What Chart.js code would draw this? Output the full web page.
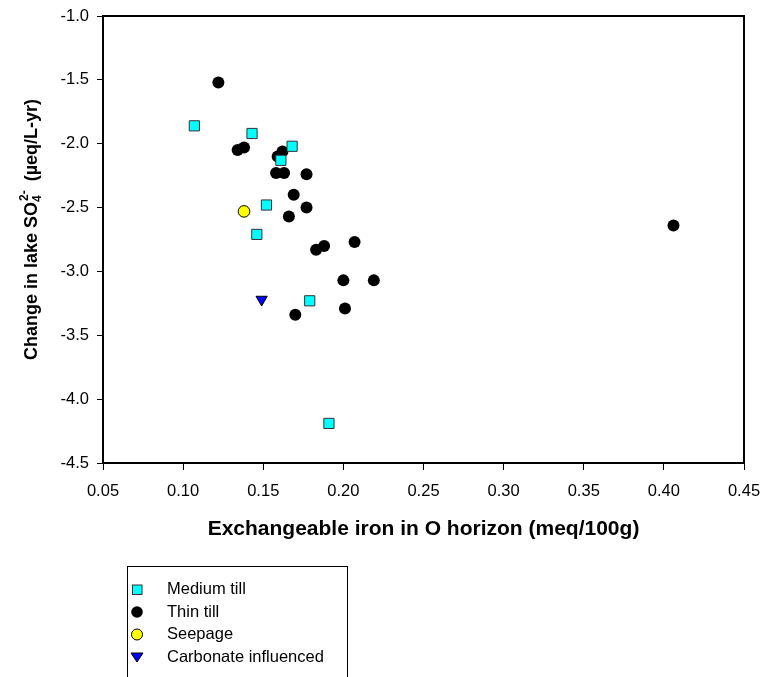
<!DOCTYPE html>
<html>
<head>
<meta charset="utf-8">
<script src="https://cdn.jsdelivr.net/npm/chart.js@4.4.0/dist/chart.umd.min.js"></script>
<style>
body { margin: 0; background: #fff; }
canvas { display: block; }
</style>
</head>
<body>
<canvas id="chart" width="761" height="677"></canvas>
<script>
// values
var mediumX = [0.107, 0.143, 0.168, 0.161, 0.152, 0.146, 0.179, 0.191];
var mediumY = [-1.86, -1.92, -2.02, -2.13, -2.48, -2.71, -3.23, -4.19];

var thinX = [0.122, 0.134, 0.138, 0.162, 0.159, 0.158, 0.163, 0.177, 0.169, 0.177, 0.166,
             0.188, 0.183, 0.207, 0.200, 0.219, 0.201, 0.170, 0.406];
var thinY = [-1.52, -2.05, -2.03, -2.06, -2.10, -2.23, -2.23, -2.24, -2.40, -2.50, -2.57,
             -2.80, -2.83, -2.77, -3.07, -3.07, -3.29, -3.34, -2.64];

var seepX = [0.138];
var seepY = [-2.53];

var carbX = [0.149];
var carbY = [-3.22];

var labels = ['Medium till', 'Thin till', 'Seepage', 'Carbonate influenced'];

var FONT = '"Liberation Sans", Arial, sans-serif';

function pts(xs, ys) {
    var out = [];
    for (var i = 0; i < xs.length; i++) {
        out.push({x: xs[i], y: ys[i]});
    }
    return out;
}

// legend symbols, same look as the points
function drawMarker(ctx, style, x, y) {
    ctx.save();
    ctx.lineWidth = 1;
    if (style == 'square') {
        ctx.fillStyle = '#00FFFF';
        ctx.strokeStyle = '#333';
        ctx.fillRect(x - 4.5, y - 4.5, 9.5, 9.5);
        ctx.strokeRect(x - 4.5, y - 4.5, 9.5, 9.5);
    } else if (style == 'black') {
        ctx.fillStyle = '#000';
        ctx.beginPath();
        ctx.arc(x, y, 5.8, 0, Math.PI * 2);
        ctx.fill();
    } else if (style == 'yellow') {
        ctx.fillStyle = '#FFFF00';
        ctx.strokeStyle = '#000';
        ctx.beginPath();
        ctx.arc(x, y, 5.5, 0, Math.PI * 2);
        ctx.fill();
        ctx.stroke();
    } else {
        ctx.fillStyle = '#0000FF';
        ctx.strokeStyle = '#000';
        ctx.beginPath();
        ctx.moveTo(x - 6, y - 4);
        ctx.lineTo(x + 6, y - 4);
        ctx.lineTo(x, y + 5);
        ctx.closePath();
        ctx.fill();
        ctx.stroke();
    }
    ctx.restore();
}

var extras = {
    id: 'extras',
    afterDraw: function(chart) {
        var ctx = chart.ctx;
        var a = chart.chartArea;
        ctx.save();
        // top and right frame
        ctx.strokeStyle = '#000';
        ctx.lineWidth = 2;
        ctx.beginPath();
        ctx.moveTo(a.left, a.top);
        ctx.lineTo(a.right, a.top);
        ctx.lineTo(a.right, a.bottom);
        ctx.stroke();

        // x title
        ctx.fillStyle = '#000';
        ctx.font = 'bold 21px ' + FONT;
        ctx.textAlign = 'center';
        ctx.textBaseline = 'middle';
        ctx.fillText('Exchangeable iron in O horizon (meq/100g)', (a.left + a.right) / 2, 529);

        // y title with sub/superscript
        ctx.translate(0, 229.5);
        ctx.rotate(-Math.PI / 2);
        var big = 'bold 18px ' + FONT;
        var small = 'bold 12px ' + FONT;
        var p1 = 'Change in lake SO', sub = '4', sup = '2-', p2 = '  (\u00b5eq/L-yr)';
        ctx.font = big;
        var w1 = ctx.measureText(p1).width, w4 = ctx.measureText(p2).width;
        ctx.font = small;
        var w2 = ctx.measureText(sub).width, w3 = ctx.measureText(sup).width;
        var total = w1 + Math.max(w2, w3) + w4;
        var x0 = -total / 2;
        ctx.textAlign = 'left';
        ctx.textBaseline = 'alphabetic';
        ctx.font = big;
        ctx.fillText(p1, x0, 37);
        ctx.font = small;
        ctx.fillText(sub, x0 + w1, 41);
        ctx.fillText(sup, x0 + w1 + 1, 28);
        ctx.font = big;
        ctx.fillText(p2, x0 + w1 + Math.max(w2, w3), 37);
        ctx.restore();

        // legend box
        ctx.save();
        ctx.strokeStyle = '#000';
        ctx.lineWidth = 1;
        ctx.strokeRect(127.5, 566.5, 220, 130);
        var styles = ['square', 'black', 'yellow', 'tri'];
        ctx.font = '16.5px ' + FONT;
        ctx.textBaseline = 'middle';
        for (var i = 0; i < labels.length; i++) {
            var yy = 589.5 + i * 22.5;
            drawMarker(ctx, styles[i], 137, yy);
            ctx.fillStyle = '#000';
            ctx.fillText(labels[i], 167, yy);
        }
        ctx.restore();
    }
};

var tickFont = {family: FONT, size: 16.5};

new Chart(document.getElementById('chart'), {
    type: 'scatter',
    data: {
        datasets: [{
            label: labels[0],
            data: pts(mediumX, mediumY),
            pointStyle: 'rect',
            pointRadius: 7.2,
            backgroundColor: '#00FFFF',
            borderColor: '#333',
            borderWidth: 1
        }, {
            label: labels[1],
            data: pts(thinX, thinY),
            pointStyle: 'circle',
            pointRadius: 6,
            backgroundColor: '#000',
            borderColor: '#000',
            borderWidth: 0
        }, {
            label: labels[2],
            data: pts(seepX, seepY),
            pointStyle: 'circle',
            pointRadius: 5.8,
            backgroundColor: '#FFFF00',
            borderColor: '#000',
            borderWidth: 1
        }, {
            label: labels[3],
            data: pts(carbX, carbY),
            pointStyle: 'triangle',
            rotation: 180,
            pointRadius: 6.5,
            backgroundColor: '#0000FF',
            borderColor: '#000',
            borderWidth: 1
        }]
    },
    options: {
        responsive: false,
        animation: false,
        layout: {padding: {top: 16, right: 17, left: 0, bottom: 0}},
        plugins: {legend: {display: false}, tooltip: {enabled: false}},
        scales: {
            x: {
                type: 'linear',
                min: 0.05,
                max: 0.45,
                afterFit: function(s) {
                    s.height = 214;
                    s.paddingLeft = 0;
                    s.paddingRight = 0;
                },
                ticks: {
                    stepSize: 0.05,
                    autoSkip: false,
                    maxRotation: 0,
                    color: '#000',
                    font: tickFont,
                    padding: 12,
                    callback: function(v) { return v.toFixed(2); }
                },
                grid: {drawOnChartArea: false, tickLength: 7, color: '#000'},
                border: {color: '#000', width: 2}
            },
            y: {
                min: -4.5,
                max: -1.0,
                afterFit: function(s) {
                    s.width = 103;
                    s.paddingTop = 0;
                    s.paddingBottom = 0;
                },
                ticks: {
                    stepSize: 0.5,
                    color: '#000',
                    font: tickFont,
                    padding: 8,
                    callback: function(v) { return v.toFixed(1); }
                },
                grid: {drawOnChartArea: false, tickLength: 6, color: '#000'},
                border: {color: '#000', width: 2}
            }
        }
    },
    plugins: [extras]
});
</script>
</body>
</html>
